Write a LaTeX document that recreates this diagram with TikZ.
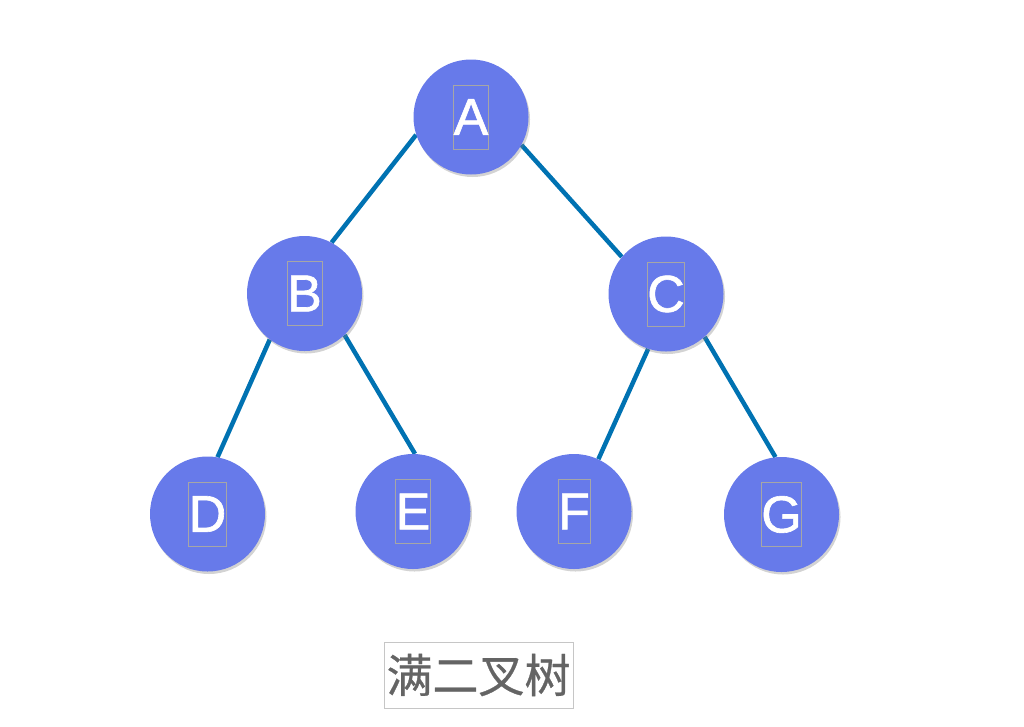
\documentclass[tikz,border=0pt]{standalone}
\usepackage{fontspec}
\newfontfamily\letterfont[FakeBold=1.2]{Liberation Sans}
\newfontfamily\cjk[FakeBold=0.6]{Noto Sans CJK SC}
\usetikzlibrary{shadows, backgrounds}
\definecolor{nodeblue}{RGB}{103,122,234}
\definecolor{edgeblue}{RGB}{0,114,178}
\definecolor{titlegray}{RGB}{100,100,100}

\begin{document}
\begin{tikzpicture}[x=1pt, y=-1pt,
		vertex/.style={circle, fill=nodeblue, minimum size=115pt, inner sep=0pt,
			drop shadow={opacity=0.35, shadow xshift=1.5pt, shadow yshift=-2.5pt}},
		tag/.style={draw=gray!70, line width=0.6pt, inner xsep=0pt, inner ysep=0pt,
			minimum height=64pt, text=white, font=\letterfont\fontsize{52}{52}\selectfont},
		branch/.style={edgeblue, line width=4.5pt}]
	\useasboundingbox (0,0) rectangle (1024,726);
	
	% 结点
	\foreach \n/\x/\y in {A/471/117, B/304.5/293.5, C/666/294,
		D/207.5/514, E/413/511.5, F/574/511.5, G/781.5/514.5} {
		\node[vertex] (\n) at (\x,\y) {};
		\node[tag] (\n-tag) at (\n) {\n};
	}
	
	% 连线（放在背景层）
	\begin{pgfonlayer}{background}
		\foreach \a/\b in {A.198/B.62, A.331/C.140, B.233/D.80,
			B.314/E.88, C.252/F.65, C.312/G.96}
			\draw[branch] (\a) -- (\b);
	\end{pgfonlayer}
	
	% 标题
	\node[draw=gray!45, line width=0.8pt, inner sep=0pt, minimum width=189pt, minimum height=66pt,
		text=titlegray, font=\cjk\fontsize{46}{46}\selectfont] (title) at (478.5,675) {满二叉树};
\end{tikzpicture}
\end{document}
